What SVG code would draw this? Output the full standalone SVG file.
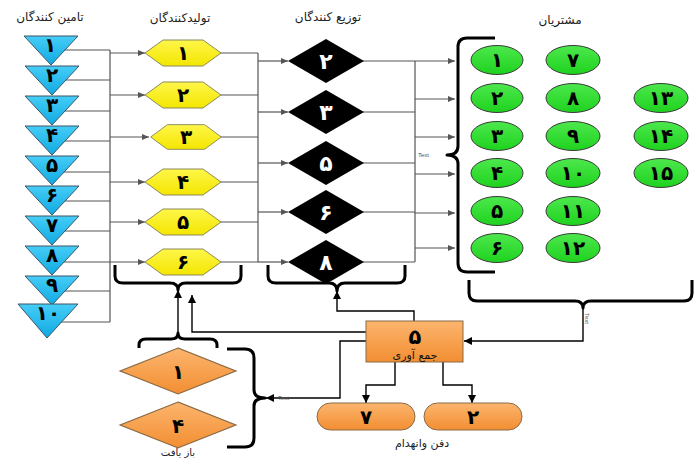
<svg xmlns="http://www.w3.org/2000/svg" xmlns:xlink="http://www.w3.org/1999/xlink" width="694" height="459" viewBox="0 0 694 459">
<style>
.hdr{font-family:"DejaVu Sans",sans-serif;font-size:12px;fill:#222;text-anchor:middle}
.dg{font-family:"DejaVu Sans",sans-serif;font-size:20px;font-weight:bold;fill:#000;text-anchor:middle}
.dgw{font-family:"DejaVu Sans",sans-serif;font-size:22px;font-weight:bold;fill:#fff;text-anchor:middle}
.tiny{font-family:"Liberation Sans",sans-serif;font-size:6px;fill:#555}
.gl{stroke:#555;stroke-width:1.2;fill:none}
.bl{stroke:#000;stroke-width:1.4;fill:none}
.br{stroke:#000;stroke-width:3;fill:none;stroke-linejoin:round}
.tri{fill:url(#gBlue);stroke:#3d5566;stroke-width:1}
.hex{fill:url(#gYel);stroke:#8a8a5a;stroke-width:1}
.dia{fill:#000}
.cus{fill:url(#gGrn);stroke:#3a3a3a;stroke-width:1}
.org{fill:url(#gOrg);stroke:#8a6a45;stroke-width:1}
</style>
<defs>
<linearGradient id="gBlue" x1="0" y1="0" x2="0" y2="1"><stop offset="0" stop-color="#45cdf7"/><stop offset="1" stop-color="#10a9e2"/></linearGradient>
<linearGradient id="gYel" x1="0" y1="0" x2="0" y2="1"><stop offset="0" stop-color="#fff64a"/><stop offset="1" stop-color="#f3e600"/></linearGradient>
<linearGradient id="gGrn" x1="0" y1="0" x2="0" y2="1"><stop offset="0" stop-color="#4de84d"/><stop offset="1" stop-color="#1ed21e"/></linearGradient>
<linearGradient id="gOrg" x1="0" y1="0" x2="0" y2="1"><stop offset="0" stop-color="#fcb56e"/><stop offset="1" stop-color="#f28e32"/></linearGradient>
<marker id="ag" markerWidth="7" markerHeight="6" refX="7" refY="3" orient="auto" markerUnits="userSpaceOnUse"><path d="M0,0 L7,3 L0,6 z" fill="#555"/></marker>
<marker id="ab" markerWidth="8" markerHeight="8" refX="8" refY="4" orient="auto" markerUnits="userSpaceOnUse"><path d="M0,0 L8,4 L0,8 z" fill="#000"/></marker>
<polygon id="hexs" points="-38,0 -20,-13 20,-13 38,0 20,13 -20,13"/>
<polygon id="dias" points="0,-22 38,0 0,22 -38,0"/>
<polygon id="tris" points="0,0 54,0 27,29"/>
</defs>

<g id="headers">
<text class="hdr" x="50" y="21">تامین کنندگان</text>
<text class="hdr" x="180" y="22">تولیدکنندگان</text>
<text class="hdr" x="328" y="21">توزیع کنندگان</text>
<text class="hdr" x="560" y="24">مشتریان</text>
</g>

<g id="connectors">
<path class="gl" d="M55,50H110 M55,80H110 M55,111H110 M55,141H110 M55,172H110 M55,201H110 M55,231H110 M55,262H110 M55,291H110 M55,322H110 M110,50V322"/>
<path class="gl" marker-end="url(#ag)" d="M110,53H145"/>
<path class="gl" marker-end="url(#ag)" d="M110,95H145"/>
<path class="gl" marker-end="url(#ag)" d="M110,137H149"/>
<path class="gl" marker-end="url(#ag)" d="M110,182H145"/>
<path class="gl" marker-end="url(#ag)" d="M110,222H145"/>
<path class="gl" marker-end="url(#ag)" d="M110,262H145"/>
<path class="gl" d="M200,53H258 M200,95H258 M200,137H258 M200,182H258 M200,222H258 M200,262H258 M258,53V262"/>
<path class="gl" marker-end="url(#ag)" d="M258,61H288"/>
<path class="gl" marker-end="url(#ag)" d="M258,112H288"/>
<path class="gl" marker-end="url(#ag)" d="M258,163H288"/>
<path class="gl" marker-end="url(#ag)" d="M258,212H288"/>
<path class="gl" marker-end="url(#ag)" d="M258,262H288"/>
<path class="gl" d="M340,61H415 M340,112H415 M340,163H415 M340,212H415 M340,262H415 M415,61V262"/>
<path class="gl" marker-end="url(#ag)" d="M415,61H455"/>
<path class="gl" marker-end="url(#ag)" d="M415,99H455"/>
<path class="gl" marker-end="url(#ag)" d="M415,137H455"/>
<path class="gl" marker-end="url(#ag)" d="M415,174H455"/>
<path class="gl" marker-end="url(#ag)" d="M415,213H455"/>
<path class="gl" marker-end="url(#ag)" d="M415,248H455"/>
<text class="tiny" x="418" y="157">Text</text>
<path class="br" d="M495,38H467Q458,38 458,47V146Q458,155 447,155Q458,155 458,164V263Q458,272 467,272H495"/>
<path class="br" d="M115,265V276Q115,283 123,283H170Q178,283 178,290Q178,283 186,283H233Q241,283 241,276V265"/>
<path class="br" d="M268,265V276Q268,283 276,283H329Q337,283 337,291Q337,283 345,283H397Q405,283 405,276V265"/>
<path class="br" d="M469,280V293Q469,301 477,301H575Q583,301 583,308Q583,301 591,301H684Q692,301 692,293V280"/>
<path class="br" d="M139,348V345Q139,339 146,339H171Q178,339 178,333Q178,339 185,339H210Q217,339 217,345V348"/>
<path class="br" d="M227,349H245Q254,349 254,358V390Q254,398 265,398Q254,398 254,406V438Q254,447 245,447H227"/>
<path class="bl" marker-end="url(#ab)" d="M178,333V290"/>
<path class="bl" marker-end="url(#ab)" d="M414,321V311H337V291"/>
<path class="bl" marker-end="url(#ab)" d="M366,332H192V295"/>
<path class="bl" marker-end="url(#ab)" d="M366,341H340V398H266"/>
<path class="bl" marker-end="url(#ab)" d="M583,308V341H464"/>
<path class="bl" marker-end="url(#ab)" d="M395,362V385H366V403"/>
<path class="bl" marker-end="url(#ab)" d="M443,362V385H472V403"/>
<text class="tiny" x="278" y="400">Text</text>
<text class="tiny" transform="translate(585,313) rotate(90)">Text</text>
</g>

<g id="suppliers">
<g id="s1"><use href="#tris" class="tri" x="24" y="36"/><text class="dg" x="50" y="52">۱</text></g>
<g id="s2"><use href="#tris" class="tri" x="25" y="66"/><text class="dg" x="52" y="82">۲</text></g>
<g id="s3"><use href="#tris" class="tri" x="25" y="96"/><text class="dg" x="52" y="112">۳</text></g>
<g id="s4"><use href="#tris" class="tri" x="25" y="126"/><text class="dg" x="52" y="142">۴</text></g>
<g id="s5"><use href="#tris" class="tri" x="25" y="156"/><text class="dg" x="52" y="172">۵</text></g>
<g id="s6"><use href="#tris" class="tri" x="25" y="186"/><text class="dg" x="52" y="202">۶</text></g>
<g id="s7"><use href="#tris" class="tri" x="25" y="216"/><text class="dg" x="52" y="232">۷</text></g>
<g id="s8"><use href="#tris" class="tri" x="25" y="246"/><text class="dg" x="52" y="262">۸</text></g>
<g id="s9"><use href="#tris" class="tri" x="25" y="276"/><text class="dg" x="52" y="292">۹</text></g>
<g id="s10"><polygon class="tri" points="18,304 78,304 47,338"/><text class="dg" x="48" y="320">۱۰</text></g>
</g>

<g id="producers">
<g id="p1"><use href="#hexs" class="hex" x="183" y="53"/><text class="dg" x="183" y="60">۱</text></g>
<g id="p2"><use href="#hexs" class="hex" x="183" y="95"/><text class="dg" x="183" y="102">۲</text></g>
<g id="p3"><use href="#hexs" class="hex" x="186" y="137" transform="translate(186,137) scale(0.93,0.95) translate(-186,-137)"/><text class="dg" x="186" y="144">۳</text></g>
<g id="p4"><use href="#hexs" class="hex" x="183" y="182"/><text class="dg" x="183" y="189">۴</text></g>
<g id="p5"><use href="#hexs" class="hex" x="183" y="222"/><text class="dg" x="183" y="229">۵</text></g>
<g id="p6"><use href="#hexs" class="hex" x="183" y="262"/><text class="dg" x="183" y="269">۶</text></g>
</g>

<g id="distributors">
<g id="d2"><use href="#dias" class="dia" x="326" y="61"/><text class="dgw" x="326" y="69">۲</text></g>
<g id="d3"><use href="#dias" class="dia" x="326" y="112"/><text class="dgw" x="326" y="120">۳</text></g>
<g id="d5"><use href="#dias" class="dia" x="326" y="163"/><text class="dgw" x="326" y="171">۵</text></g>
<g id="d6"><use href="#dias" class="dia" x="326" y="212"/><text class="dgw" x="326" y="220">۶</text></g>
<g id="d8"><use href="#dias" class="dia" x="326" y="262"/><text class="dgw" x="326" y="270">۸</text></g>
</g>

<g id="customers">
<g id="c1"><ellipse class="cus" cx="497" cy="60" rx="26" ry="14.5"/><text class="dg" x="497" y="67">۱</text></g>
<g id="c2"><ellipse class="cus" cx="497" cy="98" rx="26" ry="14.5"/><text class="dg" x="497" y="105">۲</text></g>
<g id="c3"><ellipse class="cus" cx="497" cy="136" rx="26" ry="14.5"/><text class="dg" x="497" y="143">۳</text></g>
<g id="c4"><ellipse class="cus" cx="497" cy="173" rx="26" ry="14.5"/><text class="dg" x="497" y="180">۴</text></g>
<g id="c5"><ellipse class="cus" cx="497" cy="211" rx="26" ry="14.5"/><text class="dg" x="497" y="218">۵</text></g>
<g id="c6"><ellipse class="cus" cx="497" cy="248" rx="26" ry="14.5"/><text class="dg" x="497" y="255">۶</text></g>
<g id="c7"><ellipse class="cus" cx="573" cy="60" rx="27" ry="14.5"/><text class="dg" x="573" y="67">۷</text></g>
<g id="c8"><ellipse class="cus" cx="573" cy="98" rx="27" ry="14.5"/><text class="dg" x="573" y="105">۸</text></g>
<g id="c9"><ellipse class="cus" cx="573" cy="136" rx="27" ry="14.5"/><text class="dg" x="573" y="143">۹</text></g>
<g id="c10"><ellipse class="cus" cx="573" cy="173" rx="27" ry="14.5"/><text class="dg" x="573" y="180">۱۰</text></g>
<g id="c11"><ellipse class="cus" cx="573" cy="211" rx="27" ry="14.5"/><text class="dg" x="573" y="218">۱۱</text></g>
<g id="c12"><ellipse class="cus" cx="573" cy="248" rx="27" ry="14.5"/><text class="dg" x="573" y="255">۱۲</text></g>
<g id="c13"><ellipse class="cus" cx="661" cy="98" rx="27" ry="14.5"/><text class="dg" x="661" y="105">۱۳</text></g>
<g id="c14"><ellipse class="cus" cx="661" cy="136" rx="27" ry="14.5"/><text class="dg" x="661" y="143">۱۴</text></g>
<g id="c15"><ellipse class="cus" cx="661" cy="173" rx="27" ry="14.5"/><text class="dg" x="661" y="180">۱۵</text></g>
</g>

<g id="collection">
<rect class="org" x="366" y="321" width="97" height="41"/>
<text class="dg" x="415" y="344" style="font-size:21px">۵</text>
<text class="hdr" x="415" y="359" style="font-size:11px;fill:#111">جمع آوری</text>
</g>

<g id="recycling">
<g id="r1"><use href="#dias" class="org" x="178" y="371" transform="translate(178,371) scale(1.526,1.045) translate(-178,-371)"/><text class="dg" x="178" y="379">۱</text></g>
<g id="r4"><use href="#dias" class="org" x="178" y="425" transform="translate(178,425) scale(1.526,1.045) translate(-178,-425)"/><text class="dg" x="178" y="433">۴</text></g>
<text class="hdr" x="178" y="456" style="font-size:10px">باز یافت</text>
</g>

<g id="disposal">
<g id="o7"><rect class="org" x="317" y="403" width="98" height="27" rx="13.5"/><text class="dg" x="366" y="424">۷</text></g>
<g id="o2"><rect class="org" x="424" y="403" width="98" height="27" rx="13.5"/><text class="dg" x="473" y="424">۲</text></g>
<text class="hdr" x="422" y="447" style="font-size:11px">دفن وانهدام</text>
</g>
</svg>
